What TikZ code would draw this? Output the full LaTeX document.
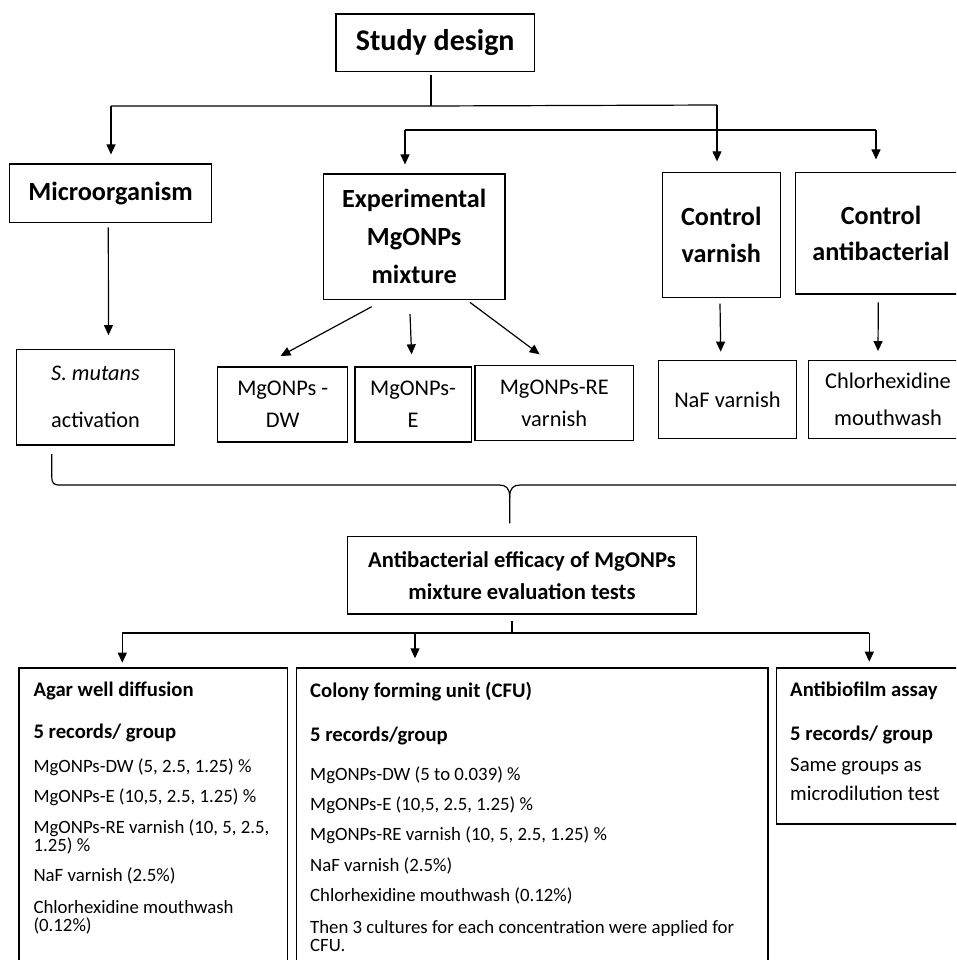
\documentclass[tikz,border=0pt]{standalone}
\usepackage{fontspec}
\setmainfont{Carlito}
\usetikzlibrary{arrows.meta}
\newcommand{\myfs}[2]{\fontsize{#1}{#2}\selectfont}
\tikzset{
  box/.style={draw, line width=1.3pt, inner sep=0pt, align=center},
  ln/.style={line width=1.2pt},
  arr/.style={line width=1.2pt, -{Triangle[length=10pt,width=9pt]}},
  txt/.style={anchor=base west, inner sep=0pt},
  bt/.style={txt, font=\bfseries\myfs{20.7}{25}},
  rt/.style={txt, font=\myfs{18.8}{22}},
}
\begin{document}
\begin{tikzpicture}[x=1pt,y=-1pt]
\clip (0,0) rectangle (956,960);
\fill[white] (0,0) rectangle (956,960);

% top level
\node[box, minimum width=198.3pt, minimum height=57.3pt, font=\bfseries\myfs{30}{36}] (study) at (435.2,42.7) {Study design};
\node[box, minimum width=201.6pt, minimum height=58.3pt, font=\bfseries\myfs{26.3}{32}] (micro) at (110.5,193.2) {Microorganism};
\node[box, minimum width=181.7pt, minimum height=125.3pt, font=\bfseries\myfs{26.2}{38}] (exper) at (414.2,236.7) {Experimental\\MgONPs\\mixture};
\node[box, minimum width=118pt, minimum height=125pt, font=\bfseries\myfs{26.2}{36.7}] (cvarn) at (721.3,235.2) {Control\\varnish};
\node[box, minimum width=171.4pt, minimum height=121.3pt, font=\bfseries\myfs{26.2}{36.7}] (cantib) at (881,233.4) {Control\\antibacterial};

% second level
\node[box, minimum width=158pt, minimum height=95.7pt, font=\myfs{22.3}{47}] (smut) at (95.5,397.2) {\textit{S. mutans}\\activation};
\node[box, minimum width=130pt, minimum height=75pt, font=\myfs{22.4}{31.7}] (dw) at (282.7,404.5) {MgONPs -\\DW};
\node[box, minimum width=116.4pt, minimum height=75pt, font=\myfs{22.4}{31.7}] (mge) at (413.1,404.5) {MgONPs-\\E};
\node[box, minimum width=158.5pt, minimum height=75pt, font=\myfs{22.4}{31.7}] (re) at (554.3,403.2) {MgONPs-RE\\varnish};
\node[box, minimum width=137.8pt, minimum height=77.6pt, font=\myfs{22.4}{30}] (naf) at (727.4,399.5) {NaF varnish};
\node[box, minimum width=159pt, minimum height=77.6pt, font=\myfs{22.4}{36.7}] (chx) at (888,399.5) {Chlorhexidine\\mouthwash};

% evaluation
\node[box, minimum width=348.7pt, minimum height=77.3pt, font=\bfseries\myfs{22.6}{32}] (anti) at (522,575.3) {Antibacterial efficacy of MgONPs\\mixture evaluation tests};

% bottom boxes
\node[box, anchor=north west, minimum width=268.4pt, minimum height=320pt] (agar) at (18.3,667.3) {};
\node[box, anchor=north west, minimum width=471.3pt, minimum height=320pt] (cfu) at (296,667.3) {};
\node[box, anchor=north west, minimum width=200pt, minimum height=156pt] (biof) at (776,667.3) {};

% agar texts
\node[bt] (agar1) at (33.3,696.7) {Agar well diffusion};
\node[bt] (agar2) at (33.3,738.3) {5 records/ group};
\node[rt] (agar3) at (33.3,772.7) {MgONPs-DW (5, 2.5, 1.25) \%};
\node[rt] (agar4) at (33.3,802.7) {MgONPs-E (10,5, 2.5, 1.25) \%};
\node[rt] (agar5) at (33.3,833.3) {MgONPs-RE varnish (10, 5, 2.5,};
\node[rt] (agar5b) at (33.3,851.6) {1.25) \%};
\node[rt] (agar6) at (33.3,881.7) {NaF varnish (2.5\%)};
\node[rt] (agar7) at (33.3,913.3) {Chlorhexidine mouthwash};
\node[rt] (agar8) at (33.3,931.6) {(0.12\%)};

% cfu texts
\node[bt] (cfu1) at (310,697.3) {Colony forming unit (CFU)};
\node[bt] (cfu2) at (310,741.7) {5 records/group};
\node[rt] (cfu3) at (310,780) {MgONPs-DW (5 to 0.039) \%};
\node[rt] (cfu4) at (310,810) {MgONPs-E (10,5, 2.5, 1.25) \%};
\node[rt] (cfu5) at (310,840.7) {MgONPs-RE varnish (10, 5, 2.5, 1.25) \%};
\node[rt] (cfu6) at (310,871.7) {NaF varnish (2.5\%)};
\node[rt] (cfu7) at (310,901.7) {Chlorhexidine mouthwash (0.12\%)};
\node[rt] (cfu8) at (310,933.3) {Then 3 cultures for each concentration were applied for};
\node[rt] (cfu9) at (310,951.6) {CFU.};

% antibiofilm texts
\node[bt] (bio1) at (790,696.7) {Antibiofilm assay};
\node[bt] (bio2) at (790,740.7) {5 records/ group};
\node[txt, font=\myfs{20.8}{25}] (bio3) at (790,771.7) {Same groups as};
\node[txt, font=\myfs{20.8}{25}] (bio4) at (790,800) {microdilution test};

% connectors top
\coordinate (j0) at (431,106);
\coordinate (hL) at (111,106);
\coordinate (hR) at (717,105);
\coordinate (gL) at (405,130);
\coordinate (gR) at (876,130);
\draw[ln, shorten <=3pt] (study.south -| j0) -- (j0);
\draw[ln] (hL) -- (j0) -- (hR);
\draw[arr, shorten >=9pt] (hL) -- (hL |- micro.north);
\draw[arr, shorten >=10.7pt] (hR) -- (hR |- cvarn.north);
\draw[ln] (gL) -- (gR);
\draw[arr, shorten >=9pt] (gL) -- (gL |- exper.north);
\draw[arr, shorten >=12.7pt] (gR) -- (gR |- cantib.north);

% connectors second level
\draw[arr] ([xshift=-2.2pt,yshift=-4.4pt]micro.south) -- ([xshift=13pt,yshift=13.6pt]smut.north);
\draw[arr] ([xshift=-42.5pt,yshift=-6.7pt]exper.south) -- ([xshift=-2.2pt,yshift=10.3pt]dw.north);
\draw[arr] ([xshift=-4.2pt,yshift=-14pt]exper.south) -- ([xshift=-1.5pt,yshift=12pt]mge.north);
\draw[arr] ([xshift=55.8pt,yshift=-2.4pt]exper.south) -- ([xshift=-14.7pt,yshift=10.7pt]re.north);
\draw[arr] ([xshift=-1.3pt,yshift=-5.3pt]cvarn.south) -- ([xshift=-6.7pt,yshift=8.4pt]naf.north);
\draw[arr] ([xshift=-2.7pt,yshift=-7.7pt]cantib.south) -- ([xshift=-10pt,yshift=9pt]chx.north);

% brace
\coordinate (b0) at ([xshift=-43.7pt,yshift=-8.3pt]smut.south);
\coordinate (bt) at (509.7,523.3);
\draw[ln] (b0) -- (51.8,476) .. controls (51.8,484) and (53.5,485) .. (61,485)
  -- (499,485) .. controls (506,485) and (509.7,488) .. (509.7,497) -- (bt);
\draw[ln] (509.7,497) .. controls (509.7,488) and (513.4,485) .. (520.4,485) -- (975,485);

% connectors bottom
\coordinate (k0) at (512,633);
\coordinate (kL) at (122.3,633);
\coordinate (kM) at (415,633);
\coordinate (kR) at (869.3,633);
\draw[ln, shorten <=6pt] (anti.south -| k0) -- (k0);
\draw[ln] (kL) -- (kR);
\draw[arr, shorten >=4.6pt] (kL) -- (kL |- agar.north);
\draw[arr, shorten >=9pt] (kM) -- (kM |- cfu.north);
\draw[arr, shorten >=5.6pt] (kR) -- (kR |- biof.north);
\end{tikzpicture}
\end{document}
